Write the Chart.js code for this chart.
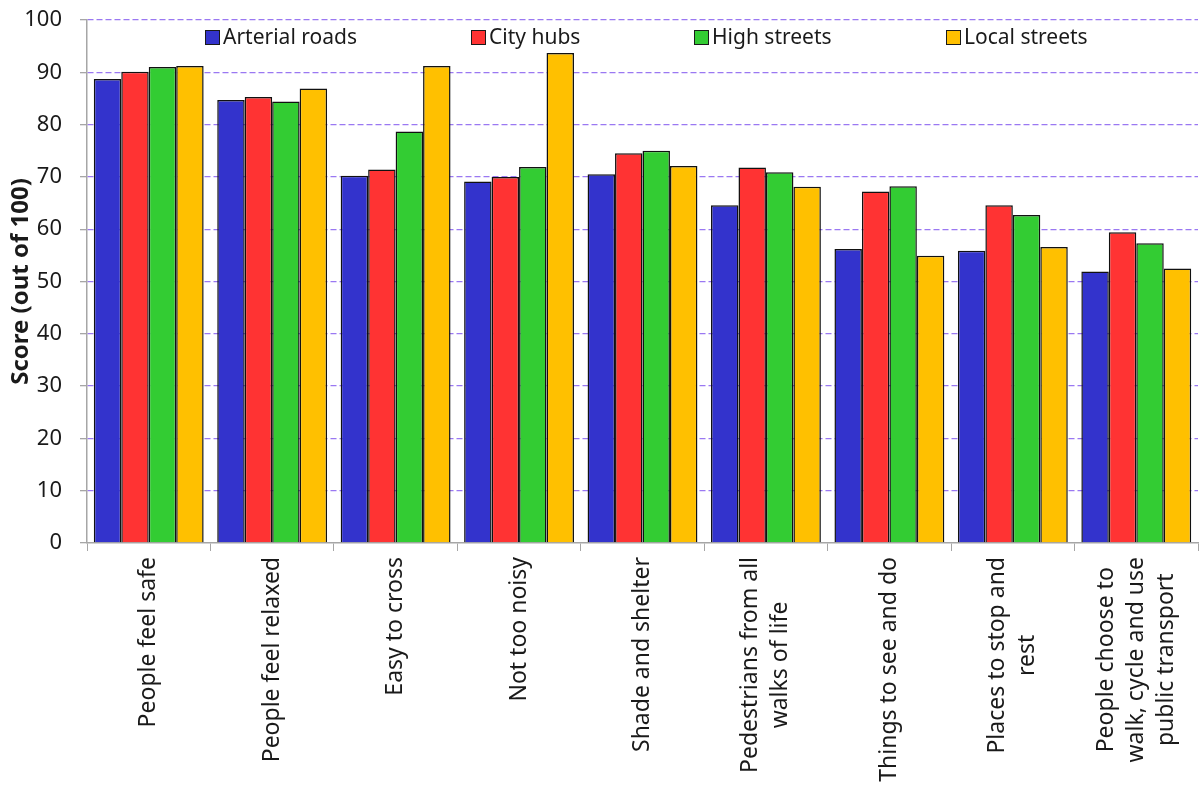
<!DOCTYPE html>
<html>
<head>
<meta charset="utf-8">
<script src="https://cdn.jsdelivr.net/npm/chart.js@4/dist/chart.umd.min.js"></script>
<style>
  html, body { margin: 0; padding: 0; background: #fff; }
  #scoreChart { display: block; }
</style>
</head>
<body>
<canvas id="scoreChart" width="1200" height="785"></canvas>
<script>
const categories = [
  ["People feel safe"],
  ["People feel relaxed"],
  ["Easy to cross"],
  ["Not too noisy"],
  ["Shade and shelter"],
  ["Pedestrians from all", "walks of life"],
  ["Things to see and do"],
  ["Places to stop and", "rest"],
  ["People choose to", "walk, cycle and use", "public transport"],
];

const seriesNames = ["Arterial roads", "City hubs", "High streets", "Local streets"];
const arterialRoads = [88.7, 84.7, 70.2, 69.1, 70.5, 64.6, 56.2, 55.9, 51.9];
const cityHubs = [90.1, 85.3, 71.4, 70.0, 74.5, 71.8, 67.2, 64.6, 59.4];
const highStreets = [91.0, 84.4, 78.7, 71.9, 75.0, 70.9, 68.2, 62.7, 57.3];
const localStreets = [91.2, 86.9, 91.2, 93.7, 72.1, 68.1, 54.9, 56.6, 52.5];
const yTicks = [0, 10, 20, 30, 40, 50, 60, 70, 80, 90, 100];

const colors = ["#3333cc", "#ff3333", "#33cc33", "#ffc000"];
const fontFamily = "'Noto Sans', sans-serif";
const textColor = "#1a1a1a";
const axisGray = "#a6a6a6";

// legend drawn inside the plot area, centred along the top
const insideLegend = {
  id: "insideLegend",
  afterDraw(chart) {
    const { ctx, chartArea } = chart;
    const box = 14, boxGap = 4, itemGap = 114;
    ctx.save();
    ctx.font = "21px " + fontFamily;
    ctx.textBaseline = "middle";
    const widths = chart.data.datasets.map((d) => ctx.measureText(d.label).width);
    const total = widths.reduce((a, w) => a + box + boxGap + w, 0) + itemGap * (widths.length - 1);
    let x = Math.round((chartArea.left + chartArea.right) / 2 - total / 2 + 4);
    const y = chartArea.top + 17;
    chart.data.datasets.forEach((d, i) => {
      ctx.fillStyle = d.backgroundColor;
      ctx.fillRect(x + 0.5, y - box / 2 + 0.5, box, box);
      ctx.strokeStyle = "#1a1a1a";
      ctx.lineWidth = 1;
      ctx.strokeRect(x + 0.5, y - box / 2 + 0.5, box, box);
      ctx.fillStyle = textColor;
      ctx.textAlign = "left";
      ctx.fillText(d.label, x + box + boxGap, y + 1);
      x += Math.round(box + boxGap + widths[i] + itemGap);
    });
    ctx.restore();
  },
};

// vertical category labels, lines centred on each other
const verticalLabels = {
  id: "verticalLabels",
  afterDraw(chart) {
    const { ctx, chartArea } = chart;
    const xScale = chart.scales.x;
    const lineHeight = 30;
    ctx.save();
    ctx.font = "23px " + fontFamily;
    ctx.fillStyle = textColor;
    ctx.textAlign = "center";
    ctx.textBaseline = "middle";
    categories.forEach((lines, i) => {
      const maxW = Math.max(...lines.map((l) => ctx.measureText(l).width));
      const px = xScale.getPixelForValue(i);
      const cy = chartArea.bottom + 14 + maxW / 2;
      ctx.save();
      ctx.translate(px, cy);
      ctx.rotate(-Math.PI / 2);
      lines.forEach((l, j) => {
        ctx.fillText(l, 0, (j - (lines.length - 1) / 2) * lineHeight);
      });
      ctx.restore();
    });
    ctx.restore();
  },
};

const seriesData = [arterialRoads, cityHubs, highStreets, localStreets];

new Chart(document.getElementById("scoreChart").getContext("2d"), {
  type: "bar",
  data: {
    labels: categories.map((c) => c.join(" ")),
    datasets: seriesData.map((values, i) => ({
      label: seriesNames[i],
      data: values,
      backgroundColor: colors[i],
      borderColor: "#111111",
      borderWidth: 1.5,
      barPercentage: 1.0,
      categoryPercentage: 0.89,
    })),
  },
  options: {
    responsive: false,
    animation: false,
    devicePixelRatio: 1,
    layout: { padding: { top: 20, right: 2, left: 0, bottom: 0 } },
    plugins: {
      legend: { display: false },
      tooltip: { enabled: false },
    },
    scales: {
      x: {
        offset: true,
        grid: {
          display: true,
          offset: true,
          drawOnChartArea: false,
          drawTicks: true,
          tickLength: 8,
          tickColor: axisGray,
          color: axisGray,
        },
        border: { display: true, color: axisGray, width: 1.5 },
        ticks: { display: false },
        afterFit(scale) {
          scale.height = 242;
        },
      },
      y: {
        min: 0,
        max: 100,
        afterBuildTicks(scale) {
          scale.ticks = yTicks.map((v) => ({ value: v }));
        },
        grid: {
          color: (c) => (c.tick && c.tick.value === 0 ? "rgba(0,0,0,0)" : "#9a78f2"),
          lineWidth: 1.3,
          drawTicks: true,
          tickLength: 7,
          tickColor: axisGray,
          tickBorderDash: [],
        },
        border: { display: true, color: axisGray, width: 1.5, dash: [6, 3] },
        ticks: {
          color: textColor,
          padding: 18,
          font: { family: fontFamily, size: 22 },
        },
        title: {
          display: true,
          text: "Score (out of 100)",
          color: textColor,
          padding: { top: 7, bottom: 0 },
          font: { family: fontFamily, size: 24, weight: "bold" },
        },
        afterFit(scale) {
          scale.width = 87;
          scale.paddingTop = 0;
          scale.paddingBottom = 0;
        },
      },
    },
  },
  plugins: [insideLegend, verticalLabels],
});
</script>
</body>
</html>
